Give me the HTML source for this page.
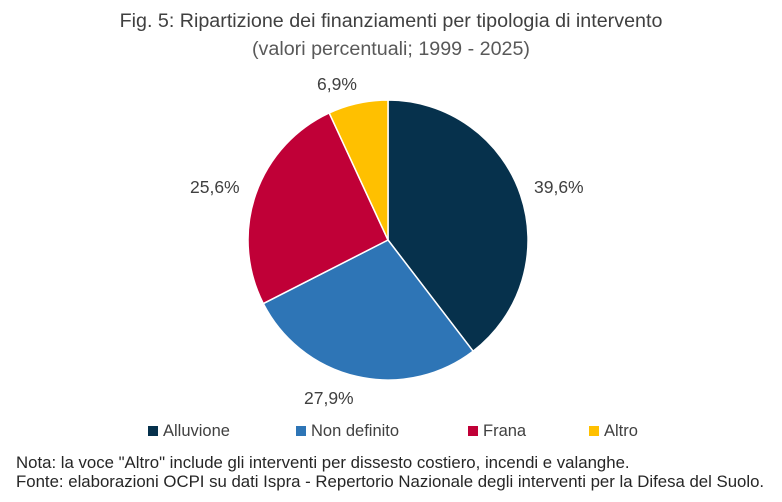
<!DOCTYPE html>
<html><head><meta charset="utf-8"><style>
body{margin:0;background:#fff}
.w{position:relative;width:782px;height:502px;overflow:hidden;font-family:"Liberation Sans",sans-serif;color:#404040}
.t{position:absolute;left:0;width:782px;text-align:center}
.l{position:absolute;font-size:17.5px;color:#404040}
.g{position:absolute;font-size:16.5px;color:#404040}
.n{position:absolute;left:16px;font-size:16.8px;color:#262626;white-space:nowrap}
.sq{display:inline-block;width:10px;height:10px;margin-right:5px;vertical-align:0}
</style></head><body><div class="w">
<div class="t" style="top:10px;font-size:19.7px;color:#404040">Fig. 5: Ripartizione dei finanziamenti per tipologia di intervento</div>
<div class="t" style="top:38px;font-size:19.7px;color:#595959">(valori percentuali; 1999 - 2025)</div>
<svg style="position:absolute;left:0;top:0" width="782" height="502">
<path d="M388,240 L388,100 A140,140 0 0 1 473.1,351.2 Z" fill="#06314C" stroke="#fff" stroke-width="1.5"/>
<path d="M388,240 L473.1,351.2 A140,140 0 0 1 263.3,303.6 Z" fill="#2E75B6" stroke="#fff" stroke-width="1.5"/>
<path d="M388,240 L263.3,303.6 A140,140 0 0 1 329.2,112.95 Z" fill="#C00037" stroke="#fff" stroke-width="1.5"/>
<path d="M388,240 L329.2,112.95 A140,140 0 0 1 388,100 Z" fill="#FFC000" stroke="#fff" stroke-width="1.5"/>
</svg>
<div class="l" style="left:317px;top:74px">6,9%</div>
<div class="l" style="left:534px;top:177px">39,6%</div>
<div class="l" style="left:190px;top:177px">25,6%</div>
<div class="l" style="left:304px;top:388px">27,9%</div>
<div class="g" style="left:148px;top:422px"><span class="sq" style="background:#06314C"></span>Alluvione</div>
<div class="g" style="left:296px;top:422px"><span class="sq" style="background:#2E75B6"></span>Non definito</div>
<div class="g" style="left:468px;top:422px"><span class="sq" style="background:#C00037"></span>Frana</div>
<div class="g" style="left:589px;top:422px"><span class="sq" style="background:#FFC000"></span>Altro</div>
<div class="n" style="top:453px">Nota: la voce "Altro" include gli interventi per dissesto costiero, incendi e valanghe.</div>
<div class="n" style="top:472px">Fonte: elaborazioni OCPI su dati Ispra - Repertorio Nazionale degli interventi per la Difesa del Suolo.</div>
</div></body></html>
